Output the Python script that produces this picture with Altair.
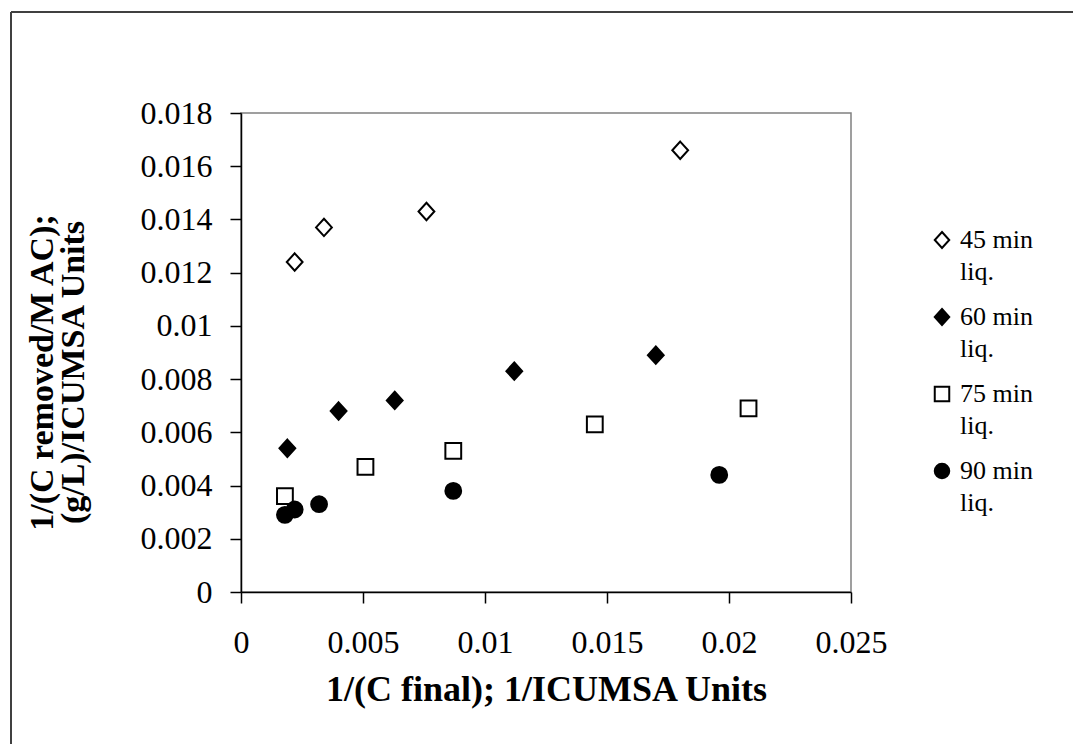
import altair as alt
import pandas as pd

# Series labels and measured points (x = 1/C final, y = 1/(C removed / M AC))
series = ["45 min liq.", "60 min liq.", "75 min liq.", "90 min liq."]

x_45 = [0.0022, 0.0034, 0.0076, 0.0180]
y_45 = [0.0124, 0.0137, 0.0143, 0.0166]

x_60 = [0.0019, 0.0040, 0.0063, 0.0112, 0.0170]
y_60 = [0.0054, 0.0068, 0.0072, 0.0083, 0.0089]

x_75 = [0.0018, 0.0051, 0.0087, 0.0145, 0.0208]
y_75 = [0.0036, 0.0047, 0.0053, 0.0063, 0.0069]

x_90 = [0.0018, 0.0022, 0.0032, 0.0087, 0.0196]
y_90 = [0.0029, 0.0031, 0.0033, 0.0038, 0.0044]

x_ticks = [0, 0.005, 0.01, 0.015, 0.02, 0.025]
y_ticks = [0, 0.002, 0.004, 0.006, 0.008, 0.01, 0.012, 0.014, 0.016, 0.018]

# Marker styles: slightly tall diamond path, square, circle
diamond = "M0,-1.1L1,0L0,1.1L-1,0Z"
shapes = [diamond, diamond, "square", "circle"]
fills = ["white", "black", "white", "black"]
strokes = ["black", "black", "black", "black"]

rows = []
for name, xs, ys in zip(series, [x_45, x_60, x_75, x_90], [y_45, y_60, y_75, y_90]):
    for xv, yv in zip(xs, ys):
        rows.append({"series": name, "x": xv, "y": yv})
df = pd.DataFrame(rows)

W, H = 610, 479
LEFT, TOP = 241, 113
FONT = "Liberation Serif"

legend = alt.Legend(
    title=None,
    orient="none",
    legendX=688,
    legendY=114,
    labelFont=FONT,
    labelFontSize=26,
    labelColor="black",
    labelBaseline="middle",
    labelOffset=5,
    labelExpr="[replace(datum.label, ' liq.', ''), 'liq.']",
    symbolSize=210,
    symbolStrokeWidth=2,
    rowPadding=19,
)

points = alt.Chart(df).mark_point(
    strokeWidth=2, opacity=1, fillOpacity=1, size=250
).encode(
    x=alt.X(
        "x:Q",
        scale=alt.Scale(domain=[0, 0.025], nice=False, zero=True),
        axis=alt.Axis(
            values=x_ticks,
            format="~g",
            title="1/(C final); 1/ICUMSA Units",
            titleY=108,
            titleBaseline="alphabetic",
            titleFontSize=36,
            labelPadding=24,
            labelFlush=False,
        ),
    ),
    y=alt.Y(
        "y:Q",
        scale=alt.Scale(domain=[0, 0.018], nice=False),
        axis=alt.Axis(
            values=y_ticks,
            format="~g",
            title=["1/(C removed/M AC);", "(g/L)/ICUMSA Units"],
            titleX=-189,
            titleY=259,
            titleAngle=-90,
            titleAlign="center",
            titleBaseline="alphabetic",
            titleLineHeight=31,
            titleFontSize=34,
            labelPadding=18,
            labelFlush=False,
        ),
    ),
    shape=alt.Shape("series:N", scale=alt.Scale(domain=series, range=shapes), legend=legend),
    fill=alt.Fill("series:N", scale=alt.Scale(domain=series, range=fills), legend=legend),
    stroke=alt.Stroke("series:N", scale=alt.Scale(domain=series, range=strokes), legend=legend),
)

# Outer frame of the chart (left and top edges)
frame_left = alt.Chart().mark_rule(color="#404040", strokeWidth=2).encode(
    x=alt.value(11 - LEFT), y=alt.value(12 - TOP), y2=alt.value(744 - TOP)
)
frame_top = alt.Chart().mark_rule(color="#404040", strokeWidth=2).encode(
    y=alt.value(12 - TOP), x=alt.value(11 - LEFT), x2=alt.value(1073 - LEFT)
)

chart = alt.layer(frame_left, frame_top, points).properties(
    width=W,
    height=H,
    autosize=alt.AutoSizeParams(type="none"),
    padding={"left": LEFT, "top": TOP, "right": 1073 - LEFT - W, "bottom": 744 - TOP - H},
    background="white",
).configure(
    style={"guide-label": {"lineHeight": 32}}
).configure_view(
    stroke="#808080", strokeWidth=1.5
).configure_axis(
    grid=False,
    domainColor="black",
    domainWidth=1.5,
    tickColor="black",
    tickWidth=1.5,
    tickSize=11,
    labelFont=FONT,
    labelFontSize=32,
    labelColor="black",
    titleFont=FONT,
    titleFontWeight="bold",
    titleColor="black",
)

chart.save("out.html", embed_options={"renderer": "svg", "actions": False})
